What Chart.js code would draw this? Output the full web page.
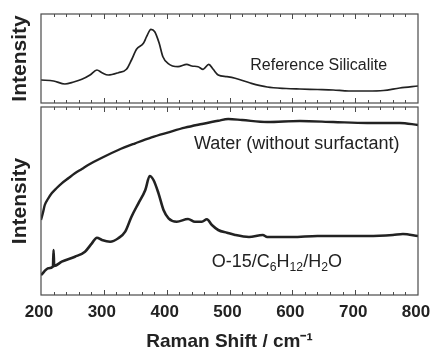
<!DOCTYPE html>
<html>
<head>
<meta charset="utf-8">
<script src="https://cdn.jsdelivr.net/npm/chart.js@4.4.1/dist/chart.umd.min.js"></script>
<style>
  html, body { margin: 0; padding: 0; background: #fff; }
  #wrap { position: relative; width: 431px; height: 350px; overflow: hidden; }
  canvas { position: absolute; left: 0; }
  #topChart { top: 0; }
  #bottomChart { top: 104px; }
</style>
</head>
<body>
<div id="wrap">
  <canvas id="topChart" width="431" height="106"></canvas>
  <canvas id="bottomChart" width="431" height="246"></canvas>
</div>
<script>
// Raman shift axis (cm-1)
const shiftMin = 200;
const shiftMax = 800;
const shiftTicks = [200, 300, 400, 500, 600, 700, 800];

// Reference silicalite spectrum (top panel, arbitrary units)
const silicaliteShift = [200, 220, 238, 252, 265, 278, 289, 297, 307, 323, 336, 344, 352, 363, 368, 375, 381, 388, 394, 402, 418, 432, 440, 450, 458, 467, 474, 482, 496, 509, 533, 560, 590, 612, 640, 665, 690, 719, 745, 771, 800];
const silicaliteIntensity = [23, 22, 19, 21, 23.7, 28, 33, 30.3, 28, 30.3, 33.7, 43, 53.7, 59.7, 66.3, 73.7, 71.3, 60, 46.3, 39.7, 36.3, 38.7, 37, 36.3, 33.7, 38.7, 33.7, 28, 26.3, 24.7, 20, 16, 14.5, 14, 13.5, 13, 12, 12, 12.5, 15, 17];

// Water (without surfactant), bottom panel
const waterShift = [200, 203, 206, 211, 217, 225, 233, 244, 254, 265, 275, 297, 323, 350, 376, 403, 429, 456, 482, 498, 520, 560, 612, 665, 719, 771, 800];
const waterIntensity = [75, 82, 90, 96, 101.7, 107, 111.7, 117, 121.7, 126, 130, 137.3, 145, 151.7, 157.7, 162.7, 167.3, 171, 174.3, 176, 175, 173, 174, 173, 172, 172, 170];

// O-15/C6H12/H2O, bottom panel
const o15Shift = [200, 212, 219, 220, 221, 233, 254, 270, 281, 289, 297, 310, 323, 334, 344, 355, 366, 373, 379, 387, 395, 403, 416, 434, 445, 456, 464, 472, 482, 496, 509, 531, 553, 560, 600, 640, 680, 720, 760, 776, 800];
const o15Intensity = [20, 26.7, 28.3, 45, 29, 33.3, 38.3, 43.3, 51.7, 57.3, 55, 53.3, 56.7, 63.3, 78.3, 91.7, 105, 119, 115, 101.7, 85, 76.7, 73.3, 76, 73.3, 73.3, 75.7, 70, 65, 62.3, 60, 58, 60, 58, 58, 59, 59, 59, 60, 61, 59];

const FONT = '"Liberation Sans", Arial, sans-serif';
const INK = '#222222';

Chart.defaults.font.family = FONT;
Chart.defaults.color = INK;

function toPoints(xs, ys) {
    return xs.map((x, i) => ({ x: x, y: ys[i] }));
}

// frame + inward tick marks on top and bottom edges, plus text labels
const framePlugin = {
    id: 'frame',
    afterDatasetsDraw(chart) {
        const { ctx, chartArea: a, scales } = chart;
        ctx.save();
        ctx.strokeStyle = '#4a4a4a';
        ctx.lineWidth = 1.2;
        ctx.strokeRect(a.left, a.top, a.right - a.left, a.bottom - a.top);
        ctx.lineWidth = 1;
        for (let v = shiftMin + 20; v < shiftMax; v += 20) {
            const x = Math.round(scales.x.getPixelForValue(v)) + 0.5;
            const len = v % 100 === 0 ? 5 : 3;
            ctx.beginPath();
            ctx.moveTo(x, a.top);
            ctx.lineTo(x, a.top + len);
            ctx.moveTo(x, a.bottom);
            ctx.lineTo(x, a.bottom - len);
            ctx.stroke();
        }
        const notes = chart.options.plugins.frame.notes || [];
        ctx.fillStyle = INK;
        ctx.textBaseline = 'alphabetic';
        ctx.textAlign = 'left';
        notes.forEach(note => {
            let x = scales.x.getPixelForValue(note.x);
            const y = scales.y.getPixelForValue(note.y);
            note.parts.forEach(p => {
                const sub = p[1] === 'sub';
                const size = sub ? note.size * 0.68 : note.size;
                ctx.font = size + 'px ' + FONT;
                ctx.fillText(p[0], x, sub ? y + 4 : y);
                x += ctx.measureText(p[0]).width;
            });
        });
        ctx.restore();
    }
};

function yAxis(max) {
    return {
        min: 0,
        max: max,
        ticks: { display: false },
        grid: { display: false, drawTicks: false },
        border: { display: false },
        title: {
            display: true,
            text: 'Intensity',
            font: { size: 21, weight: 'bold', lineHeight: 1.2 },
            padding: { top: 7.5, bottom: 0 },
            color: INK
        },
        afterFit: s => { s.width = 41; }
    };
}

function initialiseTop() {
    const ctx = document.getElementById('topChart').getContext('2d');
    new Chart(ctx, {
        type: 'line',
        data: {
            datasets: [{
                label: 'Reference Silicalite',
                data: toPoints(silicaliteShift, silicaliteIntensity),
                borderColor: INK,
                borderWidth: 1.7,
                pointRadius: 0,
                cubicInterpolationMode: 'monotone'
            }]
        },
        options: {
            responsive: false,
            animation: false,
            layout: { padding: { top: 14, bottom: 3, left: 0, right: 13 } },
            plugins: {
                legend: { display: false },
                tooltip: { enabled: false },
                frame: {
                    notes: [{ x: 533, y: 33, size: 16, parts: [['Reference Silicalite']] }]
                }
            },
            scales: {
                x: { type: 'linear', min: shiftMin, max: shiftMax, display: false },
                y: yAxis(89)
            }
        },
        plugins: [framePlugin]
    });
}

function initialiseBottom() {
    const ctx = document.getElementById('bottomChart').getContext('2d');
    new Chart(ctx, {
        type: 'line',
        data: {
            datasets: [
                {
                    label: 'Water (without surfactant)',
                    data: toPoints(waterShift, waterIntensity),
                    borderColor: INK,
                    borderWidth: 2.4,
                    pointRadius: 0,
                    cubicInterpolationMode: 'monotone'
                },
                {
                    label: 'O-15/C6H12/H2O',
                    data: toPoints(o15Shift, o15Intensity),
                    borderColor: INK,
                    borderWidth: 2.6,
                    pointRadius: 0,
                    cubicInterpolationMode: 'monotone'
                }
            ]
        },
        options: {
            responsive: false,
            animation: false,
            layout: { padding: { top: 3, bottom: 0, left: 0, right: 13 } },
            plugins: {
                legend: { display: false },
                tooltip: { enabled: false },
                frame: {
                    notes: [
                        { x: 443.5, y: 146, size: 18, parts: [['Water (without surfactant)']] },
                        { x: 471.7, y: 28.3, size: 18, parts: [['O-15/C'], ['6', 'sub'], ['H'], ['12', 'sub'], ['/H'], ['2', 'sub'], ['O']] }
                    ]
                }
            },
            scales: {
                x: {
                    type: 'linear',
                    min: shiftMin,
                    max: shiftMax,
                    afterBuildTicks: s => { s.ticks = shiftTicks.map(v => ({ value: v })); },
                    ticks: {
                        font: { size: 17, weight: 'bold' },
                        padding: 7,
                        labelOffset: -2,
                        maxRotation: 0,
                        autoSkip: false,
                        color: INK
                    },
                    grid: { display: false, drawTicks: false },
                    border: { display: false },
                    title: {
                        display: true,
                        text: 'Raman Shift / cm\u207B\u00B9',
                        font: { size: 19, weight: 'bold', lineHeight: '17px' },
                        padding: { top: 0, bottom: 0 },
                        color: INK
                    },
                    afterFit: s => {
                        s.height = 55;
                        s.paddingLeft = 0;
                        s.paddingRight = 0;
                    }
                },
                y: yAxis(188)
            }
        },
        plugins: [framePlugin]
    });
}

document.addEventListener('DOMContentLoaded', () => {
    initialiseTop();
    initialiseBottom();
});
</script>
</body>
</html>
